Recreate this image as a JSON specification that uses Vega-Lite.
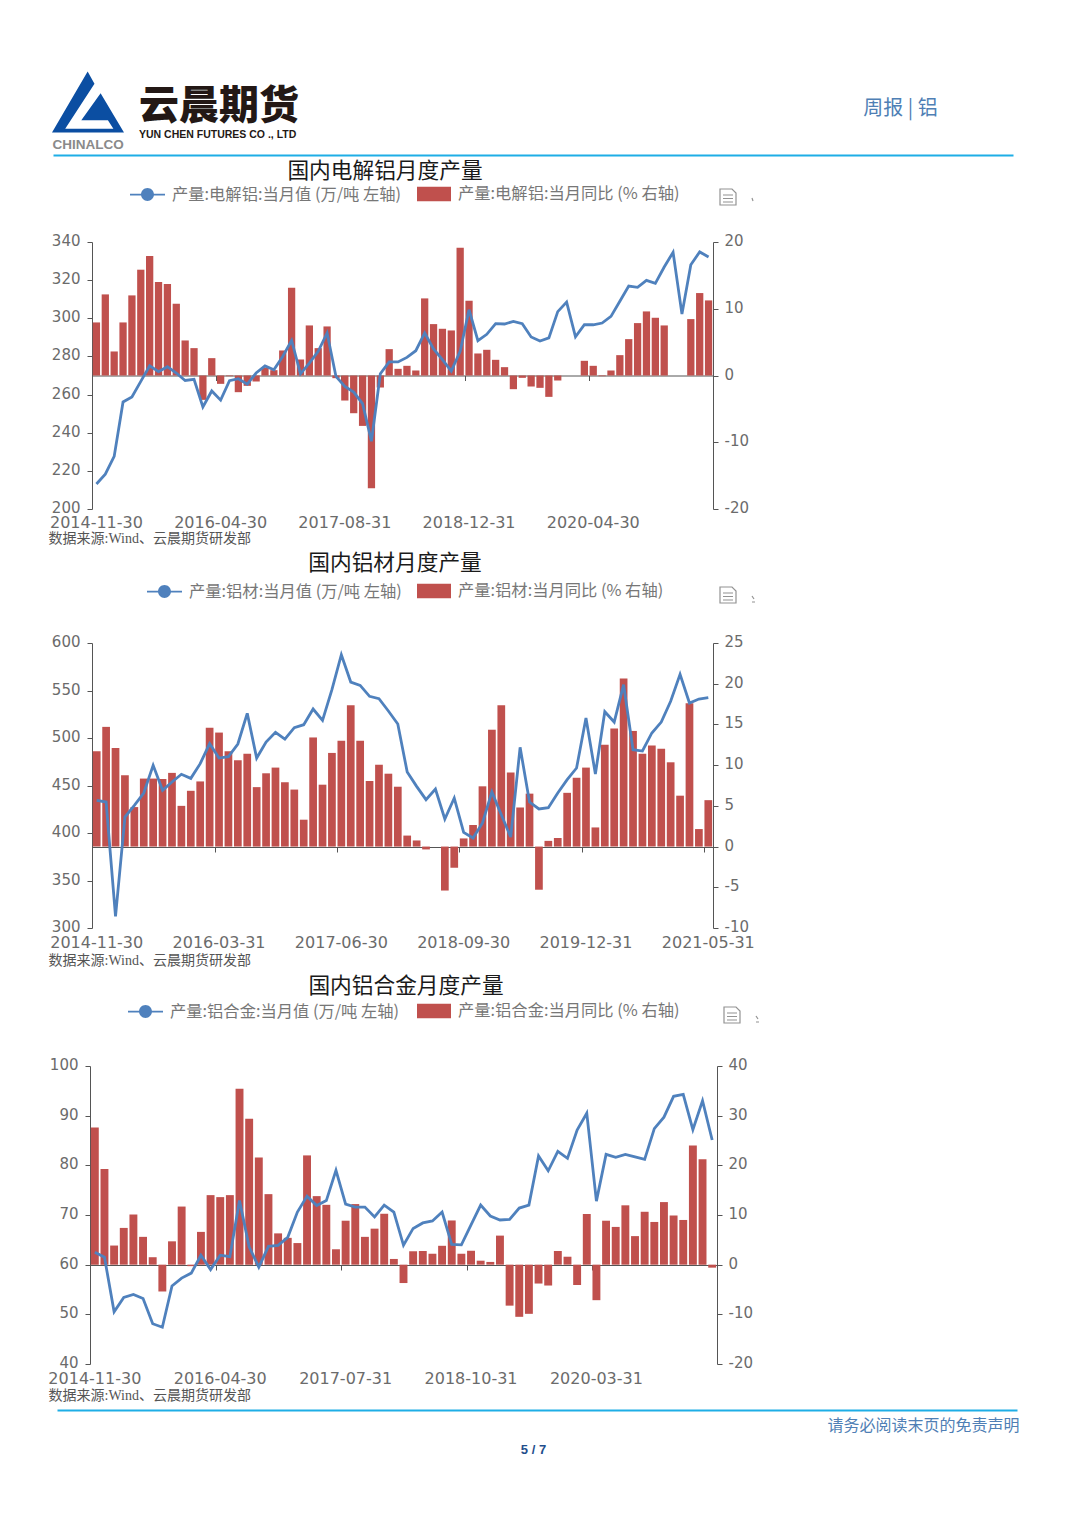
{
"$schema":"https://vega.github.io/schema/vega-lite/v6.json",
"padding":0,"autosize":"pad","background":"white","spacing":0,"bounds":"flush","align":"none",
"resolve":{"scale":{"fill":"independent","stroke":"independent","shape":"independent"},"legend":{"fill":"independent","stroke":"independent","shape":"independent"}},
"config":{"view":{"stroke":null},"font":"Noto Sans CJK SC","axis":{"grid":false,"labelFont":"DejaVu Sans","labelFontSize":15,"labelColor":"#6b6b6b","tickColor":"#555555","domainColor":"#555555","tickSize":5,"labelAngle":0,"labelOverlap":false,"labelBound":false,"labelFlush":false},"axisY":{"labelOffset":-1.5},"legend":{"title":null,"padding":0,"labelFont":"Noto Sans CJK SC","labelFontSize":16.3,"labelColor":"#777777","labelLimit":400}},
"datasets":{
"c1":[{"d":"2014-11-30","v":213.1,"y":7.95},{"d":"2014-12-31","v":218.3,"y":12.15},{"d":"2015-02-28","v":227.6,"y":3.6},{"d":"2015-03-31","v":256.1,"y":7.95},{"d":"2015-04-30","v":258.7,"y":12},{"d":"2015-05-31","v":266.9,"y":15.85},{"d":"2015-06-30","v":275.1,"y":17.9},{"d":"2015-07-31","v":272,"y":14},{"d":"2015-08-31","v":274.6,"y":13.7},{"d":"2015-09-30","v":271.3,"y":10.75},{"d":"2015-10-31","v":267.4,"y":5.25},{"d":"2015-11-30","v":268,"y":4.1},{"d":"2015-12-31","v":253.5,"y":-3.65},{"d":"2016-03-31","v":261.9,"y":2.6},{"d":"2016-04-30","v":257.1,"y":-1.25},{"d":"2016-05-31","v":267.3,"y":-0.1},{"d":"2016-06-30","v":268.3,"y":-2.5},{"d":"2016-07-31","v":265.5,"y":-1.55},{"d":"2016-08-31","v":271.3,"y":-0.9},{"d":"2016-09-30","v":275,"y":1.2},{"d":"2016-10-31","v":273,"y":0.8},{"d":"2016-11-30","v":280,"y":3.75},{"d":"2016-12-31","v":288.4,"y":13.15},{"d":"2017-03-31","v":270.9,"y":2.4},{"d":"2017-04-30","v":276.5,"y":7.5},{"d":"2017-05-31","v":282.7,"y":4.1},{"d":"2017-06-30","v":292.3,"y":7.35},{"d":"2017-07-31","v":269.5,"y":-0.4},{"d":"2017-08-31","v":264.3,"y":-3.75},{"d":"2017-09-30","v":261.3,"y":-5.65},{"d":"2017-10-31","v":255.2,"y":-7.55},{"d":"2017-11-30","v":235.5,"y":-16.9},{"d":"2017-12-31","v":270.9,"y":-1.8},{"d":"2018-03-31","v":277.1,"y":3.95},{"d":"2018-04-30","v":277.1,"y":1},{"d":"2018-05-31","v":279.5,"y":1.45},{"d":"2018-06-30","v":283,"y":0.75},{"d":"2018-07-31","v":292.3,"y":11.55},{"d":"2018-08-31","v":283.9,"y":7.7},{"d":"2018-09-30","v":278.3,"y":7},{"d":"2018-10-31","v":272.3,"y":6.75},{"d":"2018-11-30","v":282.7,"y":19.15},{"d":"2018-12-31","v":304.5,"y":11.2},{"d":"2019-02-28","v":288.3,"y":3.3},{"d":"2019-03-31","v":291.6,"y":3.85},{"d":"2019-04-30","v":297.2,"y":2.35},{"d":"2019-05-31","v":297,"y":1.25},{"d":"2019-06-30","v":298.4,"y":-2.05},{"d":"2019-07-31","v":297.2,"y":-0.35},{"d":"2019-08-31","v":290.2,"y":-1.65},{"d":"2019-09-30","v":288.1,"y":-1.85},{"d":"2019-10-31","v":289.7,"y":-3.2},{"d":"2019-11-30","v":303.5,"y":-0.75},{"d":"2019-12-31","v":308.5,"y":0},{"d":"2020-02-29","v":290.3,"y":0},{"d":"2020-03-31","v":296.6,"y":2.2},{"d":"2020-04-30","v":296.6,"y":1.45},{"d":"2020-05-31","v":297.5,"y":-0.1},{"d":"2020-06-30","v":301,"y":0.75},{"d":"2020-07-31","v":308.9,"y":3.05},{"d":"2020-08-31","v":316.9,"y":5.45},{"d":"2020-09-30","v":316.2,"y":7.85},{"d":"2020-10-31","v":319.9,"y":9.6},{"d":"2020-11-30","v":318.3,"y":8.65},{"d":"2020-12-31","v":326.9,"y":7.5},{"d":"2021-02-28","v":334.6,"y":null},{"d":"2021-03-31","v":302.2,"y":null},{"d":"2021-04-30","v":328.1,"y":8.45},{"d":"2021-05-31","v":334.8,"y":12.35},{"d":"2021-06-30","v":332.1,"y":11.25}],
"c2":[{"d":"2014-11-30","v":434.4,"y":11.7},{"d":"2014-12-31","v":432.6,"y":14.7},{"d":"2015-02-28","v":312.3,"y":12.1},{"d":"2015-03-31","v":416.8,"y":8.75},{"d":"2015-04-30","v":429.1,"y":4.85},{"d":"2015-05-31","v":442.1,"y":8.35},{"d":"2015-06-30","v":471.2,"y":8.35},{"d":"2015-07-31","v":444.9,"y":8.3},{"d":"2015-08-31","v":453.7,"y":9.05},{"d":"2015-09-30","v":461.8,"y":5},{"d":"2015-10-31","v":457.5,"y":6.85},{"d":"2015-11-30","v":473,"y":8},{"d":"2015-12-31","v":494,"y":14.6},{"d":"2016-03-31","v":478.9,"y":14},{"d":"2016-04-30","v":480.4,"y":11.7},{"d":"2016-05-31","v":493.7,"y":10.6},{"d":"2016-06-30","v":526,"y":11.4},{"d":"2016-07-31","v":478.9,"y":7.3},{"d":"2016-08-31","v":495.8,"y":9},{"d":"2016-09-30","v":506,"y":9.7},{"d":"2016-10-31","v":498.9,"y":7.9},{"d":"2016-11-30","v":510.9,"y":7},{"d":"2016-12-31","v":514,"y":3.3},{"d":"2017-03-31","v":530.5,"y":13.4},{"d":"2017-04-30","v":518.6,"y":7.6},{"d":"2017-05-31","v":550.9,"y":11.5},{"d":"2017-06-30","v":587.7,"y":13},{"d":"2017-07-31","v":558.9,"y":17.35},{"d":"2017-08-31","v":555.4,"y":13},{"d":"2017-09-30","v":543.9,"y":8.05},{"d":"2017-10-31","v":541.4,"y":10.05},{"d":"2017-11-30","v":528.4,"y":8.95},{"d":"2017-12-31","v":514.7,"y":7.35},{"d":"2018-03-31","v":464.2,"y":1.35},{"d":"2018-04-30","v":449.1,"y":0.75},{"d":"2018-05-31","v":435.1,"y":-0.35},{"d":"2018-06-30","v":446.3,"y":0},{"d":"2018-07-31","v":414.7,"y":-5.4},{"d":"2018-08-31","v":436.8,"y":-2.6},{"d":"2018-09-30","v":400.7,"y":1},{"d":"2018-10-31","v":394.7,"y":2.65},{"d":"2018-11-30","v":410.5,"y":7.4},{"d":"2018-12-31","v":443.2,"y":14.35},{"d":"2019-03-31","v":419.3,"y":17.35},{"d":"2019-04-30","v":395.8,"y":9.1},{"d":"2019-05-31","v":490.2,"y":4.8},{"d":"2019-06-30","v":432.6,"y":6.5},{"d":"2019-07-31","v":425.3,"y":-5.3},{"d":"2019-08-31","v":426.7,"y":0.7},{"d":"2019-09-30","v":442.1,"y":1.05},{"d":"2019-10-31","v":456.1,"y":6.6},{"d":"2019-11-30","v":468.4,"y":8.45},{"d":"2019-12-31","v":521.1,"y":9.7},{"d":"2020-03-31","v":462.1,"y":2.35},{"d":"2020-04-30","v":527.7,"y":12.5},{"d":"2020-05-31","v":516.8,"y":14.5},{"d":"2020-06-30","v":556.1,"y":20.65},{"d":"2020-07-31","v":487.7,"y":14.2},{"d":"2020-08-31","v":486.3,"y":11.4},{"d":"2020-09-30","v":505.3,"y":12.4},{"d":"2020-10-31","v":516.8,"y":12},{"d":"2020-11-30","v":538.6,"y":10.35},{"d":"2020-12-31","v":567,"y":6.25},{"d":"2021-03-31","v":536.8,"y":17.6},{"d":"2021-04-30","v":541,"y":2.15},{"d":"2021-05-31","v":542.5,"y":5.7}],
"c3":[{"d":"2014-11-30","v":62.5,"y":27.6},{"d":"2014-12-31","v":61.5,"y":19.25},{"d":"2015-03-31","v":50.5,"y":3.85},{"d":"2015-04-30","v":53.4,"y":7.4},{"d":"2015-05-31","v":54,"y":10.1},{"d":"2015-06-30","v":53.2,"y":5.6},{"d":"2015-07-31","v":48.1,"y":1.5},{"d":"2015-08-31","v":47.4,"y":-5.4},{"d":"2015-09-30","v":55.7,"y":4.7},{"d":"2015-10-31","v":57.3,"y":11.7},{"d":"2015-11-30","v":58.3,"y":-0.3},{"d":"2015-12-31","v":61.9,"y":6.6},{"d":"2016-03-31","v":59,"y":14},{"d":"2016-04-30","v":61.9,"y":13.6},{"d":"2016-05-31","v":61.6,"y":14},{"d":"2016-06-30","v":72.9,"y":35.4},{"d":"2016-07-31","v":63.6,"y":29.4},{"d":"2016-08-31","v":59.5,"y":21.6},{"d":"2016-09-30","v":63.7,"y":14.2},{"d":"2016-10-31","v":63.9,"y":6.3},{"d":"2016-11-30","v":65.5,"y":5.4},{"d":"2016-12-31","v":70.6,"y":4.35},{"d":"2017-03-31","v":73.8,"y":22},{"d":"2017-04-30","v":71.9,"y":13.8},{"d":"2017-05-31","v":72.9,"y":12.05},{"d":"2017-06-30","v":79,"y":3.1},{"d":"2017-07-31","v":72.2,"y":8.85},{"d":"2017-08-31","v":71.6,"y":12.2},{"d":"2017-09-30","v":71.6,"y":5.6},{"d":"2017-10-31","v":69.6,"y":7.25},{"d":"2017-11-30","v":72,"y":10.25},{"d":"2017-12-31","v":70.6,"y":1.15},{"d":"2018-03-31","v":63.9,"y":-3.7},{"d":"2018-04-30","v":67.3,"y":2.7},{"d":"2018-05-31","v":68.4,"y":2.75},{"d":"2018-06-30","v":68.8,"y":2.2},{"d":"2018-07-31","v":70.6,"y":3.8},{"d":"2018-08-31","v":64.1,"y":8.9},{"d":"2018-09-30","v":64,"y":2.2},{"d":"2018-10-31","v":68,"y":2.8},{"d":"2018-11-30","v":72,"y":0.8},{"d":"2018-12-31","v":69.8,"y":0.55},{"d":"2019-03-31","v":69,"y":5.85},{"d":"2019-04-30","v":69.1,"y":-8.25},{"d":"2019-05-31","v":71.4,"y":-10.5},{"d":"2019-06-30","v":72,"y":-9.9},{"d":"2019-07-31","v":81.9,"y":-3.8},{"d":"2019-08-31","v":78.9,"y":-4.2},{"d":"2019-09-30","v":82.8,"y":2.75},{"d":"2019-10-31","v":81.4,"y":1.6},{"d":"2019-11-30","v":87.1,"y":-4.1},{"d":"2019-12-31","v":90.5,"y":10.2},{"d":"2020-03-31","v":72.8,"y":-7.15},{"d":"2020-04-30","v":82.2,"y":8.85},{"d":"2020-05-31","v":81.6,"y":7.6},{"d":"2020-06-30","v":82.2,"y":11.95},{"d":"2020-07-31","v":81.7,"y":5.75},{"d":"2020-08-31","v":81.2,"y":10.65},{"d":"2020-09-30","v":87.4,"y":8.6},{"d":"2020-10-31","v":89.7,"y":12.6},{"d":"2020-11-30","v":93.9,"y":9.9},{"d":"2020-12-31","v":94.3,"y":9},{"d":"2021-03-31","v":87.2,"y":24},{"d":"2021-04-30","v":93,"y":21.25},{"d":"2021-05-31","v":85.1,"y":-0.6}]
},
"vconcat":[
{"width":1080,"height":155,"data":{"values":[{"k":"page"}]},
 "title":{"text":"云晨期货","subtitle":"YUN CHEN FUTURES CO ., LTD","anchor":"start","frame":"group","align":"left","baseline":"top","offset":0,"dx":139,"dy":140.5,"font":"Noto Sans CJK SC","fontSize":40,"fontWeight":900,"color":"#231815","subtitleFont":"Liberation Sans","subtitleFontSize":10.5,"subtitleFontWeight":"bold","subtitleColor":"#231815","subtitlePadding":3},
 "mark":{"type":"point","size":0,"filled":true,"opacity":1},
 "encoding":{
  "x":{"datum":0,"scale":{"domain":[0,1],"range":[53,1013]},"axis":{"title":"周报 | 铝","titleX":900,"titleY":-57,"titleFont":"Noto Sans CJK SC","titleFontSize":20,"titleFontWeight":"normal","titleColor":"#4f7fb5","titleAnchor":"middle","labels":false,"ticks":false,"domainColor":"#1eaee6","domainWidth":2}},
  "y":{"datum":0,"scale":{"domain":[0,1]},"axis":{"title":"CHINALCO","titleAngle":0,"titleX":52,"titleY":144,"titleAlign":"left","titleBaseline":"middle","titleFont":"Liberation Sans","titleFontSize":13.5,"titleFontWeight":"bold","titleColor":"#8a8a8a","labels":false,"ticks":false,"domain":false}},
  "fill":{"datum":"logo","scale":{"range":["#0b4ea2"]},"legend":{"orient":"none","legendX":52,"legendY":66,"symbolType":"M-0.01,-0.85L0.18,-0.51L-0.633,0.745L0.705,0.745L0.553,0.51L-0.186,0.51L0.35,-0.24L1,0.85L-1,0.85Z","symbolSize":5184,"symbolStrokeWidth":0,"symbolOpacity":1,"labelExpr":"''"}}
 }},
{"width":1080,"height":354,"data":{"name":"c1"},
 "title":{"text":"国内电解铝月度产量","anchor":"start","frame":"group","align":"center","baseline":"middle","offset":0,"dx":385,"dy":38,"fontSize":21.7,"fontWeight":"normal","color":"#1a1a1a","font":"Noto Sans CJK SC"},
 "layer":[
  {"mark":{"type":"bar"},"encoding":{
    "x":{"field":"d","type":"nominal","scale":{"type":"band","range":[92,713],"paddingInner":0.18,"paddingOuter":0.09},"axis":{"orient":"bottom","title":"数据来源:Wind、云晨期货研发部","titleX":48,"titleY":29,"titleAlign":"left","titleAnchor":"start","titleBaseline":"middle","titleFont":"Liberation Serif, Noto Sans CJK SC","titleFontSize":14,"titleFontWeight":"normal","titleColor":"#555555","values":["2014-11-30","2016-04-30","2017-08-31","2018-12-31","2020-04-30"],"domain":false,"ticks":false,"labelPadding":5,"labelFontSize":16}},
    "y":{"field":"y","type":"quantitative","stack":null,"scale":{"domain":[-20,20],"nice":false,"range":[354,87]},"axis":{"title":null,"orient":"right","offset":-367,"values":[-20,-10,0,10,20],"labelPadding":6,"labelExpr":"''+datum.value"}},
    "fill":{"datum":"产量:电解铝:当月同比 (% 右轴)","scale":{"range":["#c0504d"]},"legend":{"orient":"none","legendX":417,"legendY":22,"symbolType":"M-1,-0.42H1V0.42H-1Z","symbolSize":1156,"symbolStrokeWidth":0,"labelOffset":7}}
  }},
  {"mark":{"type":"line","strokeWidth":2.8},"encoding":{
    "x":{"field":"d","type":"nominal","scale":{"type":"band","range":[92,713],"paddingInner":0.18,"paddingOuter":0.09},"axis":{"orient":"bottom","title":null,"offset":-133.5,"labels":false,"values":["2014-11-30","2016-04-30","2017-08-31","2018-12-31","2020-04-30"],"bandPosition":0}},
    "y":{"field":"v","type":"quantitative","scale":{"domain":[200,340],"nice":false,"zero":false,"range":[354,87]},"axis":{"title":null,"orient":"left","offset":-92,"values":[200,220,240,260,280,300,320,340],"labelPadding":7}},
    "stroke":{"datum":"产量:电解铝:当月值 (万/吨 左轴)","scale":{"range":["#4f81bd"]},"legend":{"orient":"none","legendX":130,"legendY":22,"symbolType":"M-1,-0.05H1V0.05H-1ZM-0.37,0A0.37,0.37 0 1 1 0.37,0A0.37,0.37 0 1 1 -0.37,0Z","symbolSize":1225,"labelOffset":7,"encode":{"symbols":{"update":{"fill":{"value":"#4f81bd"},"strokeWidth":{"value":0}}}}}}
  }},
  {"mark":{"type":"point","size":0,"stroke":"#666666"},"encoding":{
    "shape":{"datum":"icon","scale":{"range":["M-0.8,-0.8H0.4L0.8,-0.4V0.8H-0.8ZM-0.5,-0.2H0.5M-0.5,0.15H0.5M-0.5,0.5H0.5M2.4,0.1L2.5,0.4"]},"legend":{"orient":"none","legendX":717,"legendY":31,"symbolSize":400,"symbolStrokeWidth":1.2,"symbolStrokeColor":"#666666","labelExpr":"''"}}
  }}
 ],
 "resolve":{"scale":{"y":"independent"},"axis":{"x":"independent"}}},
{"width":1080,"height":419,"data":{"name":"c2"},
 "title":{"text":"国内铝材月度产量","anchor":"start","frame":"group","align":"center","baseline":"middle","offset":0,"dx":395,"dy":76,"fontSize":21.7,"fontWeight":"normal","color":"#1a1a1a","font":"Noto Sans CJK SC"},
 "layer":[
  {"mark":{"type":"bar"},"encoding":{
    "x":{"field":"d","type":"nominal","scale":{"type":"band","range":[92,713],"paddingInner":0.18,"paddingOuter":0.09},"axis":{"orient":"bottom","title":"数据来源:Wind、云晨期货研发部","titleX":48,"titleY":32,"titleAlign":"left","titleAnchor":"start","titleBaseline":"middle","titleFont":"Liberation Serif, Noto Sans CJK SC","titleFontSize":14,"titleFontWeight":"normal","titleColor":"#555555","values":["2014-11-30","2016-03-31","2017-06-30","2018-09-30","2019-12-31","2021-05-31"],"domain":false,"ticks":false,"labelPadding":6,"labelFontSize":16}},
    "y":{"field":"y","type":"quantitative","stack":null,"scale":{"domain":[-10,25],"nice":false,"range":[419,134]},"axis":{"title":null,"orient":"right","offset":-367,"values":[-10,-5,0,5,10,15,20,25],"labelPadding":6,"labelExpr":"''+datum.value"}},
    "fill":{"datum":"产量:铝材:当月同比 (% 右轴)","scale":{"range":["#c0504d"]},"legend":{"orient":"none","legendX":417,"legendY":65,"symbolType":"M-1,-0.42H1V0.42H-1Z","symbolSize":1156,"symbolStrokeWidth":0,"labelOffset":7}}
  }},
  {"mark":{"type":"line","strokeWidth":2.8},"encoding":{
    "x":{"field":"d","type":"nominal","scale":{"type":"band","range":[92,713],"paddingInner":0.18,"paddingOuter":0.09},"axis":{"orient":"bottom","title":null,"offset":-81,"labels":false,"values":["2014-11-30","2016-03-31","2017-06-30","2018-09-30","2019-12-31","2021-05-31"],"bandPosition":0}},
    "y":{"field":"v","type":"quantitative","scale":{"domain":[300,600],"nice":false,"zero":false,"range":[419,134]},"axis":{"title":null,"orient":"left","offset":-92,"values":[300,350,400,450,500,550,600],"labelPadding":7}},
    "stroke":{"datum":"产量:铝材:当月值 (万/吨 左轴)","scale":{"range":["#4f81bd"]},"legend":{"orient":"none","legendX":147,"legendY":65,"symbolType":"M-1,-0.05H1V0.05H-1ZM-0.37,0A0.37,0.37 0 1 1 0.37,0A0.37,0.37 0 1 1 -0.37,0Z","symbolSize":1225,"labelOffset":7,"encode":{"symbols":{"update":{"fill":{"value":"#4f81bd"},"strokeWidth":{"value":0}}}}}}
  }},
  {"mark":{"type":"point","size":0,"stroke":"#666666"},"encoding":{
    "shape":{"datum":"icon","scale":{"range":["M-0.8,-0.8H0.4L0.8,-0.4V0.8H-0.8ZM-0.5,-0.2H0.5M-0.5,0.15H0.5M-0.5,0.5H0.5M2.4,0.1L2.6,0.4M2.4,0.7H2.7"]},"legend":{"orient":"none","legendX":717,"legendY":75,"symbolSize":400,"symbolStrokeWidth":1.2,"symbolStrokeColor":"#666666","labelExpr":"''"}}
  }}
 ],
 "resolve":{"scale":{"y":"independent"},"axis":{"x":"independent"}}},
{"width":1080,"height":436,"data":{"name":"c3"},
 "title":{"text":"国内铝合金月度产量","anchor":"start","frame":"group","align":"center","baseline":"middle","offset":0,"dx":406,"dy":80,"fontSize":21.7,"fontWeight":"normal","color":"#1a1a1a","font":"Noto Sans CJK SC"},
 "layer":[
  {"mark":{"type":"bar"},"encoding":{
    "x":{"field":"d","type":"nominal","scale":{"type":"band","range":[90,717],"paddingInner":0.18,"paddingOuter":0.09},"axis":{"orient":"bottom","title":"数据来源:Wind、云晨期货研发部","titleX":48,"titleY":31,"titleAlign":"left","titleAnchor":"start","titleBaseline":"middle","titleFont":"Liberation Serif, Noto Sans CJK SC","titleFontSize":14,"titleFontWeight":"normal","titleColor":"#555555","values":["2014-11-30","2016-04-30","2017-07-31","2018-10-31","2020-03-31"],"domain":false,"ticks":false,"labelPadding":6,"labelFontSize":16}},
    "y":{"field":"y","type":"quantitative","stack":null,"scale":{"domain":[-20,40],"nice":false,"range":[436,138]},"axis":{"title":null,"orient":"right","offset":-363,"values":[-20,-10,0,10,20,30,40],"labelPadding":6,"labelExpr":"''+datum.value"}},
    "fill":{"datum":"产量:铝合金:当月同比 (% 右轴)","scale":{"range":["#c0504d"]},"legend":{"orient":"none","legendX":417,"legendY":66,"symbolType":"M-1,-0.42H1V0.42H-1Z","symbolSize":1156,"symbolStrokeWidth":0,"labelOffset":7}}
  }},
  {"mark":{"type":"line","strokeWidth":2.8},"encoding":{
    "x":{"field":"d","type":"nominal","scale":{"type":"band","range":[90,717],"paddingInner":0.18,"paddingOuter":0.09},"axis":{"orient":"bottom","title":null,"offset":-99,"labels":false,"values":["2014-11-30","2016-04-30","2017-07-31","2018-10-31","2020-03-31"],"bandPosition":0}},
    "y":{"field":"v","type":"quantitative","scale":{"domain":[40,100],"nice":false,"zero":false,"range":[436,138]},"axis":{"title":null,"orient":"left","offset":-90,"values":[40,50,60,70,80,90,100],"labelPadding":7}},
    "stroke":{"datum":"产量:铝合金:当月值 (万/吨 左轴)","scale":{"range":["#4f81bd"]},"legend":{"orient":"none","legendX":128,"legendY":66,"symbolType":"M-1,-0.05H1V0.05H-1ZM-0.37,0A0.37,0.37 0 1 1 0.37,0A0.37,0.37 0 1 1 -0.37,0Z","symbolSize":1225,"labelOffset":7,"encode":{"symbols":{"update":{"fill":{"value":"#4f81bd"},"strokeWidth":{"value":0}}}}}}
  }},
  {"mark":{"type":"point","size":0,"stroke":"#666666"},"encoding":{
    "shape":{"datum":"icon","scale":{"range":["M-0.8,-0.8H0.4L0.8,-0.4V0.8H-0.8ZM-0.5,-0.2H0.5M-0.5,0.15H0.5M-0.5,0.5H0.5M2.4,0.1L2.6,0.4M2.4,0.7H2.7"]},"legend":{"orient":"none","legendX":721,"legendY":76,"symbolSize":400,"symbolStrokeWidth":1.2,"symbolStrokeColor":"#666666","labelExpr":"''"}}
  }}
 ],
 "resolve":{"scale":{"y":"independent"},"axis":{"x":"independent"}}},
{"width":1080,"height":46,"data":{"values":[{"k":"page"}]},
 "mark":{"type":"point","size":0,"filled":true},
 "encoding":{
  "x":{"datum":0,"scale":{"domain":[0,1],"range":[57,1017]},"axis":{"title":"请务必阅读末页的免责声明","titleX":923,"titleY":7,"titleFont":"Noto Sans CJK SC","titleFontSize":16,"titleFontWeight":"normal","titleColor":"#4f7fb5","titleAnchor":"middle","labels":false,"ticks":false,"domainColor":"#1eaee6","domainWidth":2}},
  "y":{"datum":0,"scale":{"domain":[0,1]},"axis":{"title":"5 / 7","titleAngle":0,"titleX":533,"titleY":85,"titleAlign":"center","titleBaseline":"middle","titleFont":"Liberation Sans","titleFontSize":13,"titleFontWeight":"bold","titleColor":"#1f4e8c","labels":false,"ticks":false,"domain":false}}
 }}
]
}
